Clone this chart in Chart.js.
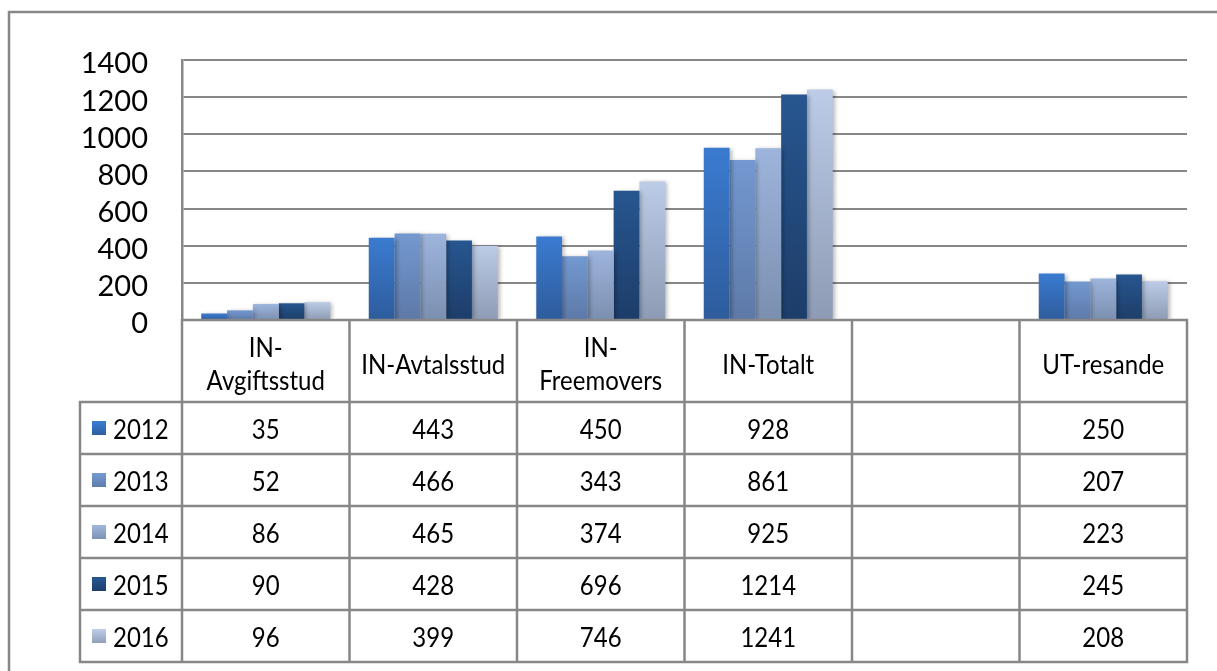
<!DOCTYPE html>
<html lang="sv">
<head>
    <meta charset="UTF-8" />
    <title>IN / UT 2012-2016</title>
    <script src="https://cdn.jsdelivr.net/npm/chart.js"></script>
    <style>
        html, body { margin: 0; padding: 0; background: #fff; }
        #wrap { width: 1217px; height: 671px; position: relative; }
    </style>
</head>
<body>
<div id="wrap">
    <canvas id="chart" width="1217" height="671"></canvas>
</div>

<script>
    // data
    const categories = [["IN-", "Avgiftsstud"], "IN-Avtalsstud", ["IN-", "Freemovers"], "IN-Totalt", "", "UT-resande"];
    const years = ["2012", "2013", "2014", "2015", "2016"];
    const v2012 = [35, 443, 450, 928, null, 250];
    const v2013 = [52, 466, 343, 861, null, 207];
    const v2014 = [86, 465, 374, 925, null, 223];
    const v2015 = [90, 428, 696, 1214, null, 245];
    const v2016 = [96, 399, 746, 1241, null, 208];
    const yMin = 0, yMax = 1400, yStep = 200;

    const series = [v2012, v2013, v2014, v2015, v2016];

    // bar gradient colours (top, bottom)
    const topColors = ["#3a7bd0", "#7399d0", "#9db4dc", "#27568f", "#bccbe6"];
    const bottomColors = ["#2e5c9c", "#5d79a8", "#7b8fb0", "#1d3d69", "#8d9bb4"];

    const lineColor = "#878787";
    const fontFamily = "Lato, Carlito, 'Open Sans', sans-serif";
    const textStretch = 1.12; // reference text is a bit taller than wide

    function barFill(ctx) {
        const chart = ctx.chart;
        const area = chart.chartArea;
        const i = ctx.datasetIndex;
        if (!area || ctx.type !== "data" || ctx.raw == null) return topColors[i];
        const y = chart.scales.y;
        const top = y.getPixelForValue(ctx.raw);
        const bottom = y.getPixelForValue(0);
        const g = chart.ctx.createLinearGradient(0, top, 0, bottom);
        g.addColorStop(0, topColors[i]);
        g.addColorStop(1, bottomColors[i]);
        return g;
    }

    function tallText(c, txt, x, y) {
        c.save();
        c.translate(x, y);
        c.scale(1, textStretch);
        c.fillText(txt, 0, 0);
        c.restore();
    }

    // bar shadow
    const shadowPlugin = {
        id: "barShadow",
        beforeDatasetsDraw(chart) {
            const c = chart.ctx;
            c.save();
            c.shadowColor = "rgba(0,0,0,0.28)";
            c.shadowBlur = 4;
            c.shadowOffsetX = 2;
            c.shadowOffsetY = 1;
        },
        afterDatasetsDraw(chart) {
            chart.ctx.restore();
        }
    };

    // data table under the plot + outer frame
    const tablePlugin = {
        id: "dataTable",
        afterDraw(chart) {
            const c = chart.ctx;
            const x = chart.scales.x;
            const area = chart.chartArea;
            const n = chart.data.labels.length;
            const colW = (area.right - area.left) / n;
            const edges = [];
            for (let i = 0; i <= n; i++) edges.push(area.left + i * colW);

            const tableTop = area.bottom;
            const headerBottom = 402;
            const rowH = 52;
            const legendLeft = 80;
            const tableBottom = headerBottom + rowH * years.length;

            c.save();
            c.strokeStyle = lineColor;
            c.lineWidth = 2.5;
            c.lineCap = "square";

            // outer frame
            c.beginPath();
            c.moveTo(9, 671);
            c.lineTo(9, 12);
            c.lineTo(1217, 12);
            c.stroke();

            // vertical lines
            c.beginPath();
            edges.forEach(function (ex) {
                c.moveTo(ex, tableTop);
                c.lineTo(ex, tableBottom);
            });
            c.moveTo(legendLeft, headerBottom);
            c.lineTo(legendLeft, tableBottom);
            // horizontal lines
            c.moveTo(area.left, tableTop);
            c.lineTo(area.right, tableTop);
            for (let r = 0; r <= years.length; r++) {
                const yy = headerBottom + r * rowH;
                c.moveTo(legendLeft, yy);
                c.lineTo(area.right, yy);
            }
            c.stroke();

            // header labels
            c.fillStyle = "#000";
            c.textAlign = "center";
            c.textBaseline = "middle";
            c.font = "24px " + fontFamily;
            chart.data.labels.forEach(function (lab, i) {
                const cx = x.getPixelForValue(i);
                if (Array.isArray(lab)) {
                    tallText(c, lab[0], cx, 348);
                    tallText(c, lab[1], cx, 381);
                } else if (lab) {
                    tallText(c, lab, cx, 365);
                }
            });

            // rows
            chart.data.datasets.forEach(function (ds, r) {
                const rowTop = headerBottom + r * rowH;
                const cy = rowTop + rowH / 2 + 2;
                // legend swatch
                const g = c.createLinearGradient(0, cy - 8, 0, cy + 6);
                g.addColorStop(0, topColors[r]);
                g.addColorStop(1, bottomColors[r]);
                c.fillStyle = g;
                c.fillRect(92, cy - 9, 14, 14);
                c.fillStyle = "#000";
                c.textAlign = "left";
                tallText(c, ds.label, 113, cy);
                c.textAlign = "center";
                ds.data.forEach(function (v, i) {
                    if (v == null) return;
                    tallText(c, String(v), x.getPixelForValue(i), cy);
                });
            });
            c.restore();
        }
    };

    const datasets = years.map(function (yr, i) {
        return {
            label: yr,
            data: series[i],
            backgroundColor: barFill,
            borderWidth: 0,
            barPercentage: 1.0,
            categoryPercentage: 0.77
        };
    });

    new Chart(document.getElementById("chart").getContext("2d"), {
        type: "bar",
        data: { labels: categories, datasets: datasets },
        options: {
            responsive: false,
            animation: false,
            layout: { padding: { top: 60, right: 30, bottom: 351, left: 0 } },
            plugins: {
                legend: { display: false },
                tooltip: { enabled: false }
            },
            scales: {
                x: {
                    display: false
                },
                y: {
                    min: yMin,
                    max: yMax,
                    afterFit(scale) { scale.width = 182; },
                    grid: {
                        color: lineColor,
                        lineWidth: 2,
                        drawTicks: false
                    },
                    border: { display: true, color: lineColor, width: 2.5 },
                    ticks: {
                        stepSize: yStep,
                        autoSkip: false,
                        padding: 34,
                        labelOffset: 4,
                        color: "#000",
                        font: { family: fontFamily, size: 29 },
                        callback: function (v) { return String(v); }
                    }
                }
            }
        },
        plugins: [shadowPlugin, tablePlugin]
    });
</script>
</body>
</html>
